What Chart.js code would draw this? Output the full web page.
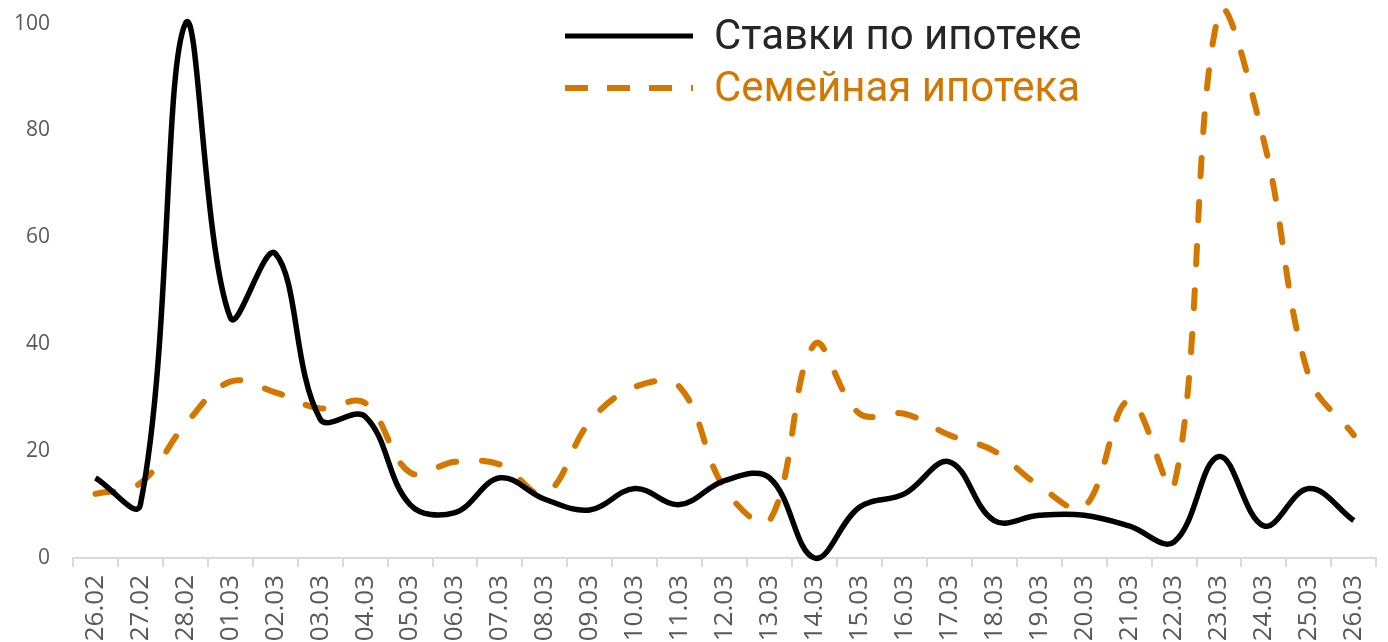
<!DOCTYPE html>
<html>
<head>
<meta charset="utf-8">
<script src="https://cdn.jsdelivr.net/npm/chart.js@4/dist/chart.umd.min.js"></script>
<style>
  html, body { margin: 0; padding: 0; background: #fff; }
  #wrap { position: relative; width: 1388px; height: 642px; overflow: hidden; }
  #box { position: absolute; left: 0; top: -12px; width: 1393px; height: 654px; }
  #legend { position: absolute; left: 0; top: 0; width: 1388px; height: 120px; pointer-events: none; }
  #legend svg { position: absolute; left: 0; top: 0; }
  .lg { position: absolute; left: 714px; font-family: Roboto, sans-serif; font-size: 42px; line-height: 1; white-space: nowrap; }
</style>
</head>
<body>
<div id="wrap">
  <div id="box"><canvas id="chart"></canvas></div>
  <div id="legend">
    <svg width="720" height="120">
      <line x1="565" y1="36" x2="693" y2="36" stroke="#000" stroke-width="5"></line>
      <line x1="565" y1="88" x2="693" y2="88" stroke="#d47700" stroke-width="6" stroke-dasharray="23 19"></line>
    </svg>
    <div class="lg" style="top:14px;color:#262626">Ставки по ипотеке</div>
    <div class="lg" style="top:66px;color:#d47700">Семейная ипотека</div>
  </div>
</div>
<script>
const dates = ['26.02', '27.02', '28.02', '01.03', '02.03', '03.03', '04.03', '05.03', '06.03', '07.03',
  '08.03', '09.03', '10.03', '11.03', '12.03', '13.03', '14.03', '15.03', '16.03', '17.03',
  '18.03', '19.03', '20.03', '21.03', '22.03', '23.03', '24.03', '25.03', '26.03'];

const mortgageRates = [15, 10, 100, 45, 57, 26, 26.5, 10, 8.5, 15, 11, 9, 13, 10, 14.5, 15, 0, 9.5, 12, 18,
  7, 8, 8, 6, 3, 19, 6, 13, 7];

const familyMortgage = [12, 14, 25, 33, 31, 28, 29, 16, 18, 17.5, 12, 25.5, 32, 32, 13, 7, 40, 27, 27, 23,
  20, 13.5, 9.5, 29.5, 13.5, 102, 78, 34, 23];

const yTicks = [0, 20, 40, 60, 80, 100];

const tickColor = '#595959';
const axisColor = '#d9d9d9';

new Chart(document.getElementById('chart'), {
  type: 'line',
  data: {
    labels: dates,
    datasets: [
      {
        label: 'Ставки по ипотеке',
        data: mortgageRates,
        borderColor: '#000000',
        borderWidth: 5.5,
        tension: 0.38,
        pointRadius: 0,
        clip: false
      },
      {
        label: 'Семейная ипотека',
        data: familyMortgage,
        borderColor: '#d47700',
        borderWidth: 6,
        borderDash: [18, 26],
        borderCapStyle: 'round',
        tension: 0.38,
        pointRadius: 0,
        clip: false
      }
    ]
  },
  options: {
    responsive: true,
    maintainAspectRatio: false,
    animation: false,
    elements: { line: { capBezierPoints: false } },
    layout: { padding: { top: 0, left: 14, right: 0, bottom: 0 } },
    plugins: {
      legend: { display: false },
      tooltip: { enabled: false }
    },
    scales: {
      x: {
        offset: true,
        afterFit: (axis) => { axis.height = 84; },
        grid: {
          offset: true,
          drawOnChartArea: false,
          drawTicks: true,
          tickLength: 9,
          color: axisColor,
          lineWidth: 2
        },
        border: { display: true, color: axisColor, width: 2 },
        ticks: {
          autoSkip: false,
          minRotation: 90,
          maxRotation: 90,
          padding: 8,
          color: tickColor,
          font: { family: 'Open Sans', size: 26 }
        }
      },
      y: {
        min: 0,
        max: 100,
        afterBuildTicks: (axis) => { axis.ticks = yTicks.map(v => ({ value: v })); },
        afterFit: (axis) => { axis.width = 59; },
        grid: { display: false, drawTicks: false },
        border: { display: false },
        ticks: {
          padding: 23,
          color: tickColor,
          font: { family: 'Open Sans', size: 21 }
        }
      }
    }
  }
});
</script>
</body>
</html>
